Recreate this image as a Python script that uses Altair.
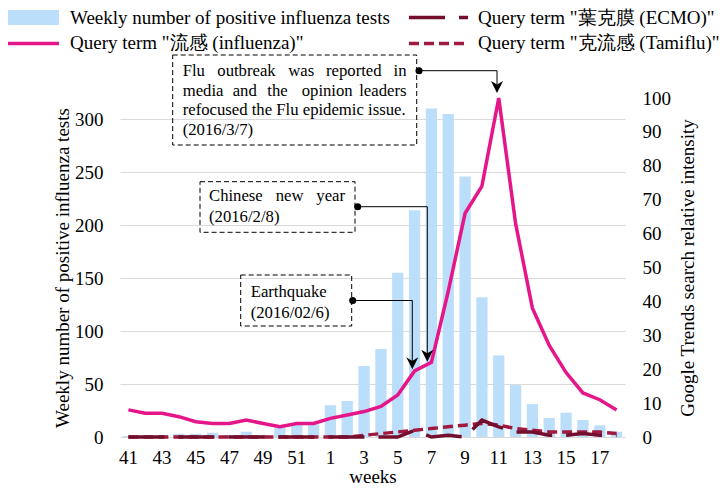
import altair as alt
import pandas as pd

# ---------------- data ----------------
weeks = ['41', '42', '43', '44', '45', '46', '47', '48', '49', '50', '51', '52',
         '1', '2', '3', '4', '5', '6', '7', '8', '9', '10', '11', '12', '13', '14',
         '15', '16', '17', '18']
week_ticks = ['41', '43', '45', '47', '49', '51', '1', '3', '5', '7', '9', '11', '13', '15', '17']
positive_tests = [1, 1, 2, 3, 3, 4, 2, 5, 2, 9, 12, 12,
                  30, 34, 67, 83, 155, 214, 310, 305, 246, 132, 77, 49, 31, 18,
                  23, 16, 11, 5]
q_influenza = [8, 7, 7, 6, 4.5, 4, 4, 5, 4, 3, 4, 4,
               5.5, 6.5, 7.5, 9, 12.4, 19.5, 22, 43, 66, 74, 100, 63, 38, 27,
               19, 13, 11, 8]
q_ecmo = [0, 0, 0, 0, 0, 0, 0, 0, 0, 0, 0, 0,
          0, 0, 0, 0, 0, 2, 0, 0.5, 0, 5, 3, 1.5, 1.5, 0.5,
          0.5, 1, 0.5, 0.5]
q_tamiflu = [0, 0, 0, 0, 0, 0, 0, 0, 0, 0, 0, 0,
             0, 0, 0.5, 1, 1.5, 2, 2.5, 3, 3.5, 4, 3.5, 2.5, 2, 1.5,
             1.5, 1.5, 1.5, 1]

left_ticks = [0, 50, 100, 150, 200, 250, 300]
right_ticks = [0, 10, 20, 30, 40, 50, 60, 70, 80, 90, 100]

series_names = ['Weekly number of positive influenza tests',
                'Query term "流感 (influenza)"',
                'Query term "葉克膜 (ECMO)"',
                'Query term "克流感 (Tamiflu)"']

# ---------------- style ----------------
FONT = 'Liberation Serif'
FS = 19
AFS = 16.7
BAR_C = '#BBDEFA'
FLU_C = '#E4168A'
ECMO_C = '#730F2D'
TAMI_C = '#A0193F'
ECMO_DASH = [36, 14]
TAMI_DASH = [10, 5]
W, H = 505, 339
OX, OY = 120, 98  # plot origin in page pixels

df = pd.DataFrame({'week': weeks, 'tests': positive_tests, 'flu': q_influenza,
                   'ecmo': q_ecmo, 'tami': q_tamiflu})
one = pd.DataFrame({'k': [0]})

xenc = alt.X('week:N', sort=weeks,
             scale=alt.Scale(paddingInner=0.33, paddingOuter=0.165),
             axis=alt.Axis(values=week_ticks, title='weeks', labelAngle=0,
                           ticks=False, tickSize=0, domain=False, grid=False,
                           labelPadding=11, titleY=39, titleBaseline='middle',
                           titleAlign='center'))

bars = alt.Chart(df).mark_bar(color=BAR_C).encode(
    x=xenc,
    y=alt.Y('tests:Q', scale=alt.Scale(domain=[0, 320], nice=False),
            axis=alt.Axis(orient='left', values=left_ticks,
                          title='Weekly number of positive influenza tests',
                          grid=True, gridColor='#D9D9D9', gridWidth=1,
                          ticks=False, tickSize=0, domain=False, labelPadding=17,
                          titleAngle=270, titleX=-58, titleY=H / 2,
                          titleAlign='center', titleBaseline='middle')))

right_axis = alt.Axis(orient='right', values=right_ticks,
                      title='Google Trends search relative intensity',
                      grid=False, ticks=False, tickSize=0, domain=False,
                      labelPadding=17, titleAngle=270, titleX=62, titleY=H / 2,
                      titleAlign='center', titleBaseline='middle')
rscale = alt.Scale(domain=[0, 100], nice=False)


def line_layer(field, color, dash=None):
    kw = dict(color=color, strokeWidth=3.5)
    if dash is not None:
        kw['strokeDash'] = dash
    return alt.Chart(df).mark_line(**kw).encode(
        x=alt.X('week:N', sort=weeks),
        y=alt.Y(f'{field}:Q', scale=rscale, axis=right_axis))


lines = alt.layer(line_layer('tami', TAMI_C, TAMI_DASH),
                  line_layer('ecmo', ECMO_C, ECMO_DASH),
                  line_layer('flu', FLU_C))


# ---------------- helpers for legend / annotations ----------------
def txt(s, x, y, align='left', size=AFS):
    return alt.Chart(one).mark_text(text=s, align=align, baseline='middle',
                                    font=FONT, fontSize=size, color='black').encode(
        x=alt.value(x - OX), y=alt.value(y - OY))


def seg(x1, y1, x2, y2, color='black', width=1.0, dash=None):
    kw = dict(color=color, strokeWidth=width)
    if dash is not None:
        kw['strokeDash'] = dash
    return alt.Chart(one).mark_rule(**kw).encode(
        x=alt.value(x1 - OX), y=alt.value(y1 - OY),
        x2=alt.value(x2 - OX), y2=alt.value(y2 - OY))


def box(x1, y1, x2, y2):
    return alt.Chart(one).mark_rect(filled=False, stroke='black', strokeWidth=1,
                                    strokeDash=[5, 3]).encode(
        x=alt.value(x1 - OX), y=alt.value(y1 - OY),
        x2=alt.value(x2 - OX), y2=alt.value(y2 - OY))


def dot(x, y):
    return alt.Chart(one).mark_point(shape='circle', filled=True, size=50,
                                     color='black', opacity=1).encode(
        x=alt.value(x - OX), y=alt.value(y - OY))


ARROW = 'M0,1L-1,-1L0,-0.4L1,-1Z'


def arrow(x, tip_y):
    return alt.Chart(one).mark_point(shape=ARROW, filled=True, size=144,
                                     color='black', opacity=1).encode(
        x=alt.value(x - OX), y=alt.value(tip_y - 6 - OY))


extras = []
# legend
extras.append(alt.Chart(one).mark_rect(color=BAR_C).encode(
    x=alt.value(8 - OX), x2=alt.value(59 - OX),
    y=alt.value(10 - OY), y2=alt.value(25 - OY)))
extras.append(txt(series_names[0], 70, 18, size=FS))
extras.append(seg(409, 17.5, 468, 17.5, color=ECMO_C, width=3.5, dash=ECMO_DASH))
extras.append(txt(series_names[2], 478, 18, size=FS))
extras.append(seg(8, 43.5, 59, 43.5, color=FLU_C, width=3.5))
extras.append(txt(series_names[1], 70, 43, size=FS))
extras.append(seg(409, 43.5, 468, 43.5, color=TAMI_C, width=3.5, dash=TAMI_DASH))
extras.append(txt(series_names[3], 478, 43, size=FS))

# annotation: flu outbreak
extras.append(box(172.7, 55, 416.7, 145))
for w_, x_ in [('Flu', 182.7), ('outbreak', 217.3), ('was', 288.3), ('reported', 326)]:
    extras.append(txt(w_, x_, 70.7))
extras.append(txt('in', 406.5, 70.7, align='right'))
for w_, x_ in [('media', 182.7), ('and', 232.7), ('the', 267.3), ('opinion', 301.7)]:
    extras.append(txt(w_, x_, 90.7))
extras.append(txt('leaders', 406.5, 90.7, align='right'))
extras.append(txt('refocused the Flu epidemic issue.', 182.7, 110.3))
extras.append(txt('(2016/3/7)', 182.7, 130))
extras.append(seg(419, 70.7, 497, 70.7))
extras.append(seg(497, 70.7, 497, 89))
extras.append(dot(419, 70.7))
extras.append(arrow(497, 93))

# annotation: Chinese new year
extras.append(box(200, 181.7, 355, 232.3))
extras.append(txt('Chinese', 209, 196))
extras.append(txt('new', 275.7, 196))
extras.append(txt('year', 345, 196, align='right'))
extras.append(txt('(2016/2/8)', 209, 217))
extras.append(seg(357.7, 206.7, 427.3, 206.7))
extras.append(seg(427.3, 206.7, 427.3, 358))
extras.append(dot(357.7, 206.7))
extras.append(arrow(427.3, 361.7))

# annotation: Earthquake
extras.append(box(240.7, 275, 351.7, 326))
extras.append(txt('Earthquake', 250.7, 291.7))
extras.append(txt('(2016/02/6)', 250.7, 312.7))
extras.append(seg(352.7, 300.5, 412.3, 300.5))
extras.append(seg(412.3, 300.5, 412.3, 365))
extras.append(dot(352.7, 300.5))
extras.append(arrow(412.3, 369.3))

chart = alt.layer(bars, lines, *extras).resolve_scale(y='independent').properties(
    width=W, height=H,
    autosize=alt.AutoSizeParams(type='none'),
    padding={'left': 112, 'top': 90, 'right': 94, 'bottom': 49},
).configure(font=FONT).configure_view(stroke=None).configure_axis(
    labelFont=FONT, titleFont=FONT, labelFontSize=FS, titleFontSize=FS,
    labelColor='black', titleColor='black', titleFontWeight='normal')

chart.save('out.html', embed_options={'renderer': 'svg', 'actions': False})
